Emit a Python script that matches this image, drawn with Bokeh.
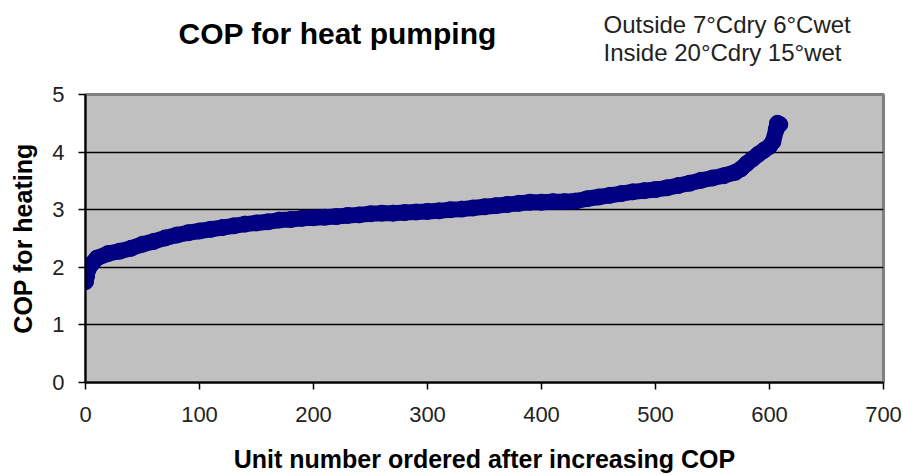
from bokeh.plotting import figure
from bokeh.models import Label, Range1d, FixedTicker
from bokeh.layouts import column
from bokeh.embed import file_html
from bokeh.resources import INLINE

# Values
unit_number = [0, 1, 2, 5, 10, 20, 30, 40, 50, 60, 70, 80, 90, 100, 110, 120, 130, 140,
               150, 160, 170, 180, 190, 200, 210, 220, 230, 240, 250, 260, 270, 280, 290,
               300, 310, 320, 330, 340, 350, 360, 370, 380, 390, 400, 410, 420, 430, 440,
               450, 460, 470, 480, 490, 500, 510, 520, 530, 540, 550, 560, 570, 575, 580,
               585, 590, 595, 600, 603, 606, 607, 609]
cop_heating = [1.75, 1.85, 1.95, 2.05, 2.16, 2.24, 2.28, 2.33, 2.40, 2.45, 2.51, 2.56, 2.60,
               2.63, 2.66, 2.69, 2.72, 2.75, 2.77, 2.79, 2.82, 2.83, 2.85, 2.86, 2.87, 2.88,
               2.90, 2.91, 2.93, 2.94, 2.94, 2.95, 2.96, 2.97, 2.98, 3.00, 3.01, 3.03, 3.05,
               3.07, 3.09, 3.11, 3.13, 3.13, 3.14, 3.14, 3.15, 3.19, 3.22, 3.25, 3.28, 3.31,
               3.33, 3.35, 3.38, 3.42, 3.46, 3.51, 3.55, 3.59, 3.65, 3.71, 3.80, 3.88, 3.96,
               4.03, 4.10, 4.18, 4.40, 4.50, 4.48]
x_ticks = [0, 100, 200, 300, 400, 500, 600, 700]
y_ticks = [0, 1, 2, 3, 4, 5]

title_text = "COP for heat pumping"
note_lines = ["Outside 7°Cdry  6°Cwet", "Inside 20°Cdry 15°wet"]
x_label = "Unit number ordered after increasing COP"
y_label = "COP for heating"

FONT = "Liberation Sans"
W = 903
HEADER_H = 82
LEFT = 85
RIGHT = 20

# Header strip holding the title and the note; its frame is aligned with the
# main plot frame, so the x range is set so that one unit equals one page pixel.
header = figure(width=W, height=HEADER_H, output_backend="svg", toolbar_location=None,
                x_range=Range1d(LEFT, W - RIGHT), y_range=Range1d(HEADER_H, 0),
                min_border=0)
header.axis.visible = False
header.grid.grid_line_color = None
header.outline_line_color = None
header.background_fill_color = "white"
header.border_fill_color = "white"
header.add_layout(Label(x=178, y=33, text=title_text, text_font=FONT, text_font_size="30px",
                        text_font_style="bold", text_align="left", text_baseline="middle",
                        text_color="black"))
header.add_layout(Label(x=603, y=24, text=note_lines[0], text_font=FONT, text_font_size="24px",
                        text_align="left", text_baseline="middle", text_color="#222222"))
header.add_layout(Label(x=603, y=52, text=note_lines[1], text_font=FONT, text_font_size="24px",
                        text_align="left", text_baseline="middle", text_color="#222222"))

p = figure(width=W, height=475 - HEADER_H, output_backend="svg", toolbar_location=None,
           x_range=Range1d(0, 700), y_range=Range1d(0, 5),
           min_border_left=LEFT, min_border_right=RIGHT, min_border_top=94 - HEADER_H,
           min_border_bottom=92)

p.background_fill_color = "#C0C0C0"
p.border_fill_color = "white"
p.outline_line_color = "#808080"
p.outline_line_width = 3

p.xgrid.grid_line_color = None
p.ygrid.grid_line_color = "black"
p.ygrid.grid_line_width = 1.5

for ax in (p.xaxis[0], p.yaxis[0]):
    ax.axis_line_color = "black"
    ax.axis_line_width = 2
    ax.major_tick_line_color = "black"
    ax.major_tick_line_width = 1.5
    ax.major_tick_in = 0
    ax.major_tick_out = 7
    ax.minor_tick_line_color = None
    ax.major_label_text_font = FONT
    ax.major_label_text_font_size = "22px"
    ax.major_label_text_color = "#222222"
    ax.axis_label_text_font = FONT
    ax.axis_label_text_font_size = "25px"
    ax.axis_label_text_font_style = "bold"
    ax.axis_label_text_color = "black"

p.xaxis.ticker = FixedTicker(ticks=x_ticks)
p.yaxis.ticker = FixedTicker(ticks=y_ticks)
p.xaxis.axis_label = x_label
p.yaxis.axis_label = y_label
p.xaxis.major_label_standoff = 17
p.xaxis.axis_label_standoff = 20
p.yaxis.major_label_standoff = 14
p.yaxis.axis_label_standoff = 12

p.line(unit_number, cop_heating, line_width=16, color="#000080",
       line_join="round", line_cap="round")
p.scatter(unit_number, cop_heating, size=16, color="#000080", line_color="#000080")

layout = column(header, p, spacing=0)
open("out.html", "w").write(file_html(layout, INLINE))
